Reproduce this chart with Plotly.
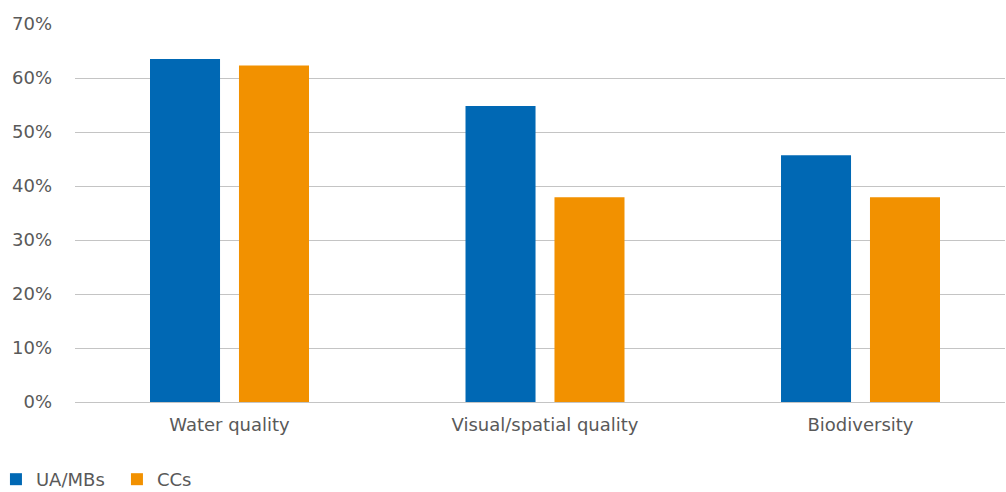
import plotly.graph_objects as go

categories = ["Water quality", "Visual/spatial quality", "Biodiversity"]
ua_mbs = [0.635, 0.548, 0.457]
ccs = [0.623, 0.379, 0.379]
tick_vals = [0, 0.1, 0.2, 0.3, 0.4, 0.5, 0.6, 0.7]
tick_text = ["0%", "10%", "20%", "30%", "40%", "50%", "60%", "70%"]

FONT = "DejaVu Sans, sans-serif"
TXT = "#595959"

fig = go.Figure()
fig.add_trace(go.Bar(name="UA/MBs", x=categories, y=ua_mbs, marker_color="#0068b4", marker_line_width=0))
fig.add_trace(go.Bar(name="CCs", x=categories, y=ccs, marker_color="#f29100", marker_line_width=0))

fig.update_layout(
    width=1006, height=492,
    margin=dict(l=75, r=1, t=23.5, b=89.7, autoexpand=False),
    paper_bgcolor="white", plot_bgcolor="white",
    barmode="group", bargap=0.436, bargroupgap=0.213,
    font=dict(family=FONT, size=18, color=TXT),
    showlegend=True,
    legend=dict(orientation="h", xref="paper", yref="paper", x=-0.085, y=-0.205,
                xanchor="left", yanchor="middle", font=dict(size=18, color=TXT),
                itemwidth=30, tracegroupgap=0, entrywidth=76),
    xaxis=dict(range=[-0.4897, 2.458], showgrid=False, zeroline=False, showline=False, ticks="",
               tickfont=dict(size=18, color=TXT), ticklabelstandoff=10),
    yaxis=dict(range=[0, 0.7], tickvals=tick_vals, ticktext=tick_text, showgrid=True,
               gridcolor="#c4c4c4", gridwidth=1, zeroline=True, zerolinecolor="#c4c4c4",
               zerolinewidth=1, showline=False, ticks="", tickfont=dict(size=18, color=TXT),
               ticklabelstandoff=22),
)

fig.write_html("out.html", config={"displayModeBar": False},
               post_script="document.body.style.margin='0';document.body.style.overflow='hidden';")
